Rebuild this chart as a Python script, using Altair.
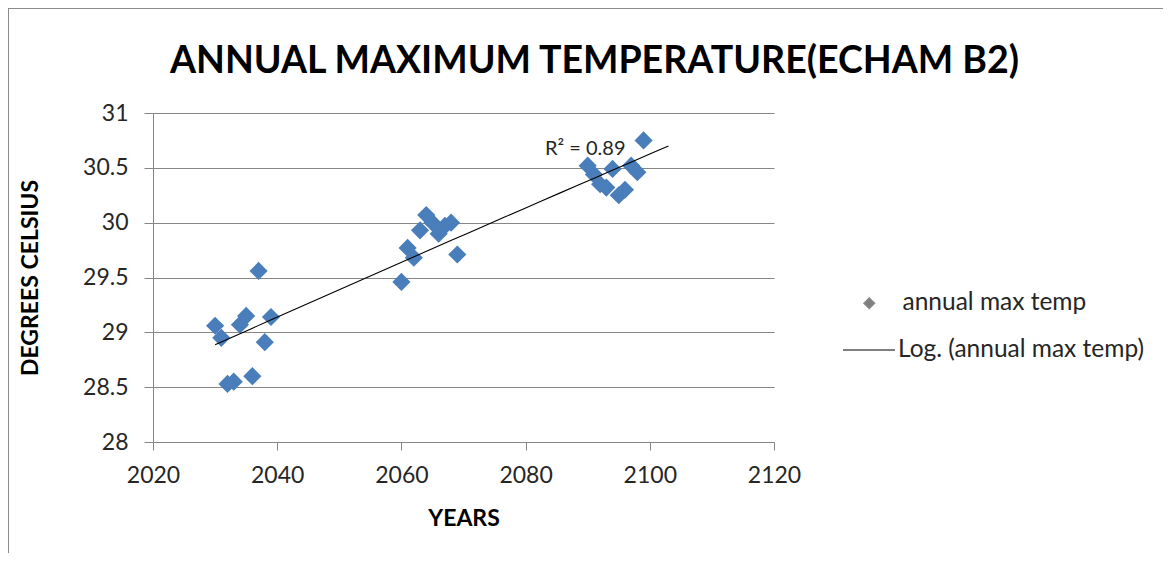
import altair as alt
import pandas as pd

# ---- data ----
years = [2030, 2031, 2032, 2033, 2034, 2035, 2036, 2037, 2038, 2039,
         2060, 2061, 2062, 2063, 2064, 2065, 2066, 2067, 2068, 2069,
         2090, 2091, 2092, 2093, 2094, 2095, 2096, 2097, 2098, 2099]
temps = [29.06, 28.95, 28.53, 28.55, 29.07, 29.15, 28.60, 29.56, 28.91, 29.14,
         29.46, 29.77, 29.68, 29.93, 30.07, 30.00, 29.90, 29.97, 30.00, 29.71,
         30.52, 30.44, 30.35, 30.32, 30.49, 30.25, 30.30, 30.52, 30.46, 30.75]
series_name = "annual max temp"
trend_name = "Log. (annual max temp)"
trend_extent = [2030, 2103]
r2_label = ["R\u00b2 = 0.89"]
r2_pos_year = [2089.6]
r2_pos_temp = [30.67]
x_ticks = [2020, 2040, 2060, 2080, 2100, 2120]
y_ticks = [28, 28.5, 29, 29.5, 30, 30.5, 31]

df = pd.DataFrame({"year": years, "temp": temps,
                   "series": [series_name] * len(years),
                   "trend": [trend_name] * len(years)})

W, H = 621, 329
PL, PT = 145, 105
FONT = "Lato"

xscale = alt.Scale(domain=[2020, 2120], nice=False, zero=False)
yscale = alt.Scale(domain=[28, 31], nice=False, zero=False)

xenc = alt.X("year:Q", scale=xscale,
             axis=alt.Axis(values=x_ticks, format="d", grid=False, title="YEARS",
                           tickSize=8, labelPadding=14, labelFlush=False, titleY=76,
                           titleBaseline="middle"))
yenc = alt.Y("temp:Q", scale=yscale,
             axis=alt.Axis(values=y_ticks, format="~g", grid=True, labelFlush=False,
                           title="DEGREES CELSIUS", tickSize=9, labelPadding=16,
                           titleAngle=-90, titleX=-123, titleY=H / 2,
                           titleAlign="center", titleBaseline="middle"))

base = alt.Chart(df)

points = base.mark_point(filled=True, size=330, opacity=1).encode(
    x=xenc, y=yenc,
    fill=alt.Fill("series:N", scale=alt.Scale(range=["#4A7EBB"]), legend=None),
    shape=alt.Shape("series:N", scale=alt.Scale(range=["diamond"]),
                    legend=alt.Legend(title=None, orient="none", legendX=704, legendY=178,
                                      symbolSize=110, symbolFillColor="#7f7f7f",
                                      labelOffset=21, padding=0, labelLimit=400)),
)

trend = base.transform_regression(
    "year", "temp", method="log", extent=trend_extent, groupby=["trend"]
).mark_line(strokeWidth=1.1).encode(
    x="year:Q", y="temp:Q",
    stroke=alt.Stroke("trend:N", scale=alt.Scale(range=["black"]),
                      legend=alt.Legend(title=None, orient="none", legendX=689, legendY=210,
                                        symbolType="stroke", symbolSize=2704,
                                        symbolStrokeWidth=1.1, labelOffset=2, padding=0,
                                        labelLimit=400)),
)

r2 = alt.Chart(pd.DataFrame({"year": r2_pos_year, "temp": r2_pos_temp, "t": r2_label})).mark_text(
    font=FONT, fontSize=20, color="#262626", align="center", baseline="middle"
).encode(x="year:Q", y="temp:Q", text="t:N")

frame = alt.Chart(pd.DataFrame({"a": [0]})).mark_rect(
    fill=None, stroke="#8c8c8c", strokeWidth=2
).encode(x=alt.value(-PL), x2=alt.value(1100), y=alt.value(-PT), y2=alt.value(500))

chart = alt.layer(frame, points, trend, r2).properties(
    width=W, height=H,
    background="white",
    autosize=alt.AutoSizeParams(type="none"),
    padding={"left": PL, "top": PT, "right": 1155 - PL - W, "bottom": 545 - PT - H},
    title=alt.TitleParams("ANNUAL MAXIMUM TEMPERATURE(ECHAM B2)", font=FONT, fontSize=37.5,
                          fontWeight="bold", color="black", anchor="middle", frame="group",
                          dx=131, offset=-103, baseline="alphabetic"),
).resolve_legend(shape="independent", stroke="independent").configure_view(
    stroke=None
).configure_axis(
    labelFont=FONT, labelFontSize=23, labelColor="#262626",
    titleFont=FONT, titleFontSize=23, titleFontWeight="bold", titleColor="black",
    domainColor="#868686", tickColor="#868686", gridColor="#868686",
    gridOpacity=1, domainWidth=1, tickWidth=1, gridWidth=1,
).configure_legend(
    labelFont=FONT, labelFontSize=24.5, labelColor="#262626",
)

chart.save("out.html", embed_options={"renderer": "svg", "actions": False})
